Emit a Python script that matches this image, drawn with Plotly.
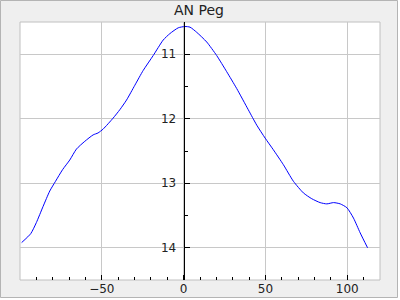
import plotly.graph_objects as go

phase = [-99, -93.4, -90, -85.9, -81.8, -78.3, -74, -69.6, -65.5, -60.4, -55.3, -52.3,
         -49.2, -43.1, -39, -34.9, -29.8, -24.7, -18.6, -12.5, -8.4, -3.3, 0.8, 3.9, 8,
         14.1, 20.2, 26.3, 32.4, 39.5, 44.7, 49.8, 54.8, 60.9, 67.1, 73.2, 78.3, 83.4,
         87.5, 91.6, 95.7, 99.8, 103.8, 107.9, 112.4]
mag = [13.92, 13.78, 13.61, 13.36, 13.12, 12.97, 12.79, 12.64, 12.47, 12.35, 12.25, 12.22,
       12.16, 11.99, 11.86, 11.71, 11.48, 11.25, 11.02, 10.78, 10.68, 10.59, 10.57, 10.58, 10.66,
       10.81, 11.02, 11.27, 11.53, 11.86, 12.10, 12.30, 12.48, 12.71, 12.97, 13.15, 13.24, 13.30,
       13.32, 13.30, 13.32, 13.38, 13.54, 13.77, 14.00]

title_text = "AN Peg"
x_range = [-100, 120]
y_range = [14.5, 10.5]
x_ticks = [-50, 0, 50, 100]
y_ticks = [11, 12, 13, 14]

W, H = 398, 298
L, R, T, B = 20, 18, 22, 18
pw, ph = W - L - R, H - T - B

font = "DejaVu Sans"
fig = go.Figure(go.Scatter(x=phase, y=mag, mode="lines",
                           line=dict(color="#0000ff", width=1, shape="spline", smoothing=0.6),
                           hoverinfo="skip"))

fig.update_layout(
    width=W, height=H,
    margin=dict(l=L, r=R, t=T, b=B, autoexpand=False),
    paper_bgcolor="#efefef", plot_bgcolor="white",
    showlegend=False,
    title=dict(text=title_text, x=0.5, xanchor="center", y=1 - 10 / H, yanchor="middle",
               yref="container", automargin=False,
               font=dict(family=font, size=14, color="#222")),
    xaxis=dict(range=x_range, tickvals=x_ticks, showgrid=True, gridcolor="#c8c8c8", gridwidth=1,
               zeroline=False, showline=False, ticks="inside", ticklen=5, tickcolor="black",
               automargin=False,
               minor=dict(ticks="inside", ticklen=3, dtick=10, tick0=0, tickcolor="black", showgrid=False),
               tickfont=dict(family=font, size=12, color="#222")),
    yaxis=dict(range=y_range, tickvals=y_ticks, showgrid=True, gridcolor="#c8c8c8", gridwidth=1,
               zeroline=False, anchor="free", position=(0 - x_range[0]) / (x_range[1] - x_range[0]),
               showline=True, linecolor="black", linewidth=1, automargin=False,
               ticks="inside", ticklen=5, tickcolor="black", ticklabelstandoff=5,
               minor=dict(ticks="inside", ticklen=3, dtick=0.5, tick0=0, tickcolor="black", showgrid=False),
               tickfont=dict(family=font, size=12, color="#222")),
    shapes=[
        dict(type="rect", xref="paper", yref="paper", x0=0, x1=1, y0=0, y1=1,
             line=dict(color="#c0c0c0", width=1), layer="below"),
        dict(type="rect", xref="paper", yref="paper",
             x0=(0.5 - L) / pw, x1=(W - 0.5 - L) / pw,
             y0=(T + ph - (H - 0.5)) / ph, y1=(T + ph - 0.5) / ph,
             line=dict(color="#b4b4b4", width=1), layer="below"),
    ],
)

fig.write_html("out.html")
